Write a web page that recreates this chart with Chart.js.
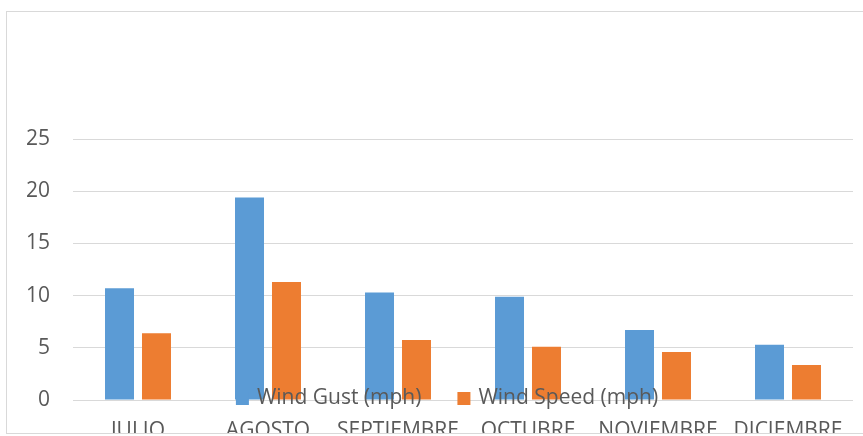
<!DOCTYPE html>
<html>
<head>
<meta charset="utf-8">
<script src="https://cdn.jsdelivr.net/npm/chart.js@4/dist/chart.umd.min.js"></script>
<style>
  html, body { margin: 0; padding: 0; background: #fff; }
  #wrap { position: relative; width: 863px; height: 434px; overflow: hidden; }
  #frame { position: absolute; left: 6px; top: 11px; width: 880px; height: 423px; border: 1px solid #d9d9d9; box-sizing: border-box; z-index: 2; }
  #windChart { position: absolute; left: 0; top: 0; }
</style>
</head>
<body>
<div id="wrap">
  <div id="frame"></div>
  <canvas id="windChart" width="863" height="464"></canvas>
</div>
<script>
const meses = ['JULIO', 'AGOSTO', 'SEPTIEMBRE', 'OCTUBRE', 'NOVIEMBRE', 'DICIEMBRE'];
const rafagas = [10.7, 19.4, 10.3, 9.9, 6.7, 5.3];
const velocidad = [6.4, 11.3, 5.75, 5.1, 4.6, 3.35];
const ticksY = [0, 5, 10, 15, 20, 25];

const FONT = "'Open Sans', 'Noto Sans', sans-serif";
const GRIS = '#595959';

// leyenda encima del area de barras, como en el original
const leyendaEncima = {
  id: 'leyendaEncima',
  afterDraw(chart) {
    const ctx = chart.ctx;
    const sets = chart.data.datasets;
    ctx.save();
    ctx.font = '21px ' + FONT;
    ctx.textBaseline = 'middle';
    const box = 13, gap = 8, sep = 36;
    let total = 0;
    sets.forEach((ds, i) => {
      total += box + gap + ctx.measureText(ds.label).width + (i < sets.length - 1 ? sep : 0);
    });
    let x = 447 - total / 2;
    const y = 398;
    sets.forEach((ds) => {
      ctx.fillStyle = ds.backgroundColor;
      ctx.fillRect(x, y - 6, box, box);
      x += box + gap;
      ctx.fillStyle = GRIS;
      ctx.fillText(ds.label, x, y);
      x += ctx.measureText(ds.label).width + sep;
    });
    ctx.restore();
  },
};

const ctx = document.getElementById('windChart').getContext('2d');
new Chart(ctx, {
  type: 'bar',
  data: {
    labels: meses,
    datasets: [
      { label: 'Wind Gust (mph)', data: rafagas, backgroundColor: '#5B9BD5', categoryPercentage: 0.569, barPercentage: 0.784 },
      { label: 'Wind Speed (mph)', data: velocidad, backgroundColor: '#ED7D31', categoryPercentage: 0.569, barPercentage: 0.784 },
    ],
  },
  options: {
    responsive: false,
    animation: false,
    devicePixelRatio: 1,
    layout: { padding: { top: 139, right: 10, bottom: 0, left: 0 } },
    plugins: { legend: { display: false }, tooltip: { enabled: false } },
    scales: {
      x: {
        afterFit: (scale) => { scale.height = 64; },
        grid: { display: false, drawTicks: false },
        border: { display: false },
        ticks: { color: GRIS, font: { family: FONT, size: 21 }, padding: 18, maxRotation: 0, autoSkip: false },
      },
      y: {
        min: 0,
        max: 25,
        afterBuildTicks: (scale) => { scale.ticks = ticksY.map((v) => ({ value: v })); },
        afterFit: (scale) => { scale.width = 73; },
        grid: { color: '#d9d9d9', lineWidth: 1, drawTicks: false },
        border: { display: false },
        ticks: { color: GRIS, font: { family: FONT, size: 21 }, padding: 23 },
      },
    },
  },
  plugins: [leyendaEncima],
});
</script>
</body>
</html>
